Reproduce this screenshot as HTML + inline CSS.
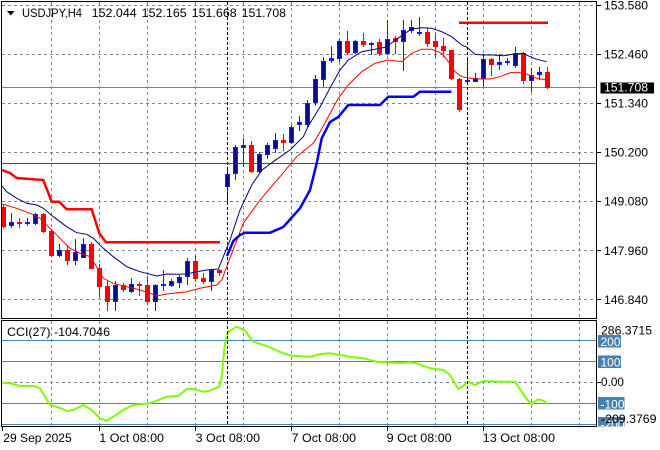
<!DOCTYPE html>
<html><head><meta charset="utf-8"><style>
html,body{margin:0;padding:0;background:#fff;width:660px;height:450px;overflow:hidden}
svg{display:block}
text{font-family:"Liberation Sans",Arial,sans-serif;font-size:12px}
</style></head><body>
<svg width="660" height="450" viewBox="0 0 660 450" xmlns="http://www.w3.org/2000/svg">
<defs>
<clipPath id="cm"><rect x="2" y="2" width="594" height="316"/></clipPath>
<clipPath id="cc"><rect x="2" y="321" width="594" height="105"/></clipPath>
</defs>
<rect width="660" height="450" fill="#fff"/>
<g stroke="#778899" stroke-width="1" stroke-dasharray="3,3" fill="none">
<path d="M2 5.5H596M2 54.5H596M2 103.5H596M2 152.5H596M2 201.5H596M2 250.5H596M2 299.5H596M2 382.5H596"/>
<path d="M51.5 2V318M99.5 2V318M147.5 2V318M195.5 2V318M243.5 2V318M291.5 2V318M339.5 2V318M387.5 2V318M435.5 2V318M483.5 2V318M531.5 2V318M579.5 2V318"/>
<path d="M51.5 321V426M99.5 321V426M147.5 321V426M195.5 321V426M243.5 321V426M291.5 321V426M339.5 321V426M387.5 321V426M435.5 321V426M483.5 321V426M531.5 321V426M579.5 321V426"/>
</g>
<g clip-path="url(#cm)">
<path d="M2 87.5H596" stroke="#808080" stroke-width="1"/>
<path d="M2 163.5H596" stroke="#ff0000" stroke-width="1"/>
<path stroke="#ff0000" stroke-width="1" fill="none" d="M3.5 205V228M19.5 218V228M43.5 213V233M51.5 229V257M67.5 246V265M91.5 242V269M99.5 264V298M107.5 281V311M123.5 283V292M139.5 282V296M147.5 276V305M195.5 256V282M203.5 273V284M219.5 269V276M251.5 141V173M283.5 134V151M347.5 31V55M363.5 33V47M379.5 39V56M395.5 36V54M427.5 28V47M435.5 33V57M443.5 38V57M451.5 50V80M459.5 78V112M491.5 58V76M523.5 52V84M547.5 67V89"/>
<path fill="#ff0000" d="M1 207h5v20h-5zM17 222h5v2h-5zM41 214h5v18h-5zM49 231h5v25h-5zM65 250h5v11h-5zM89 244h5v25h-5zM97 268h5v19h-5zM105 286h5v16h-5zM121 285h5v5h-5zM137 284h5v2h-5zM145 285h5v17h-5zM193 261h5v18h-5zM201 278h5v4h-5zM217 270h5v3h-5zM249 145h5v27h-5zM281 140h5v3h-5zM345 41h5v12h-5zM361 41h5v4h-5zM377 42h5v12h-5zM393 38h5v4h-5zM425 32h5v12h-5zM433 41h5v6h-5zM441 46h5v5h-5zM449 50h5v29h-5zM457 79h5v31h-5zM489 59h5v6h-5zM521 53h5v28h-5zM545 72h5v16h-5z"/>
<path stroke="#1a1aff" stroke-width="1" fill="none" d="M11.5 213V228M27.5 218V226M35.5 213V225M59.5 244V257M75.5 239V265M83.5 238V258M115.5 281V311M131.5 278V293M155.5 284V311M163.5 270V291M171.5 279V287M179.5 275V288M187.5 258V285M211.5 269V291M227.5 167V203M235.5 145V180M243.5 138V167M259.5 152V173M267.5 143V159M275.5 133V153M291.5 125V144M299.5 116V131M307.5 100V128M315.5 75V106M323.5 57V87M331.5 46V63M339.5 39V62M355.5 40V54M371.5 42V55M387.5 20V55M403.5 20V71M411.5 20V33M419.5 17V36M467.5 58V82M475.5 73V82M483.5 54V87M499.5 54V70M507.5 58V65M515.5 47V68M531.5 68V92M539.5 67V80"/>
<path stroke="#1a1aff" stroke-width="1" fill="#0a0a96" d="M9.5 222.5h4v3h-4zM25.5 222.5h4v1h-4zM33.5 214.5h4v9h-4zM57.5 250.5h4v5h-4zM73.5 252.5h4v8h-4zM81.5 244.5h4v13h-4zM113.5 285.5h4v16h-4zM129.5 284.5h4v7h-4zM153.5 285.5h4v16h-4zM161.5 284.5h4v1h-4zM169.5 281.5h4v4h-4zM177.5 277.5h4v5h-4zM185.5 261.5h4v15h-4zM209.5 270.5h4v11h-4zM225.5 174.5h4v12h-4zM233.5 147.5h4v26h-4zM241.5 145.5h4v2h-4zM257.5 154.5h4v17h-4zM265.5 145.5h4v9h-4zM273.5 140.5h4v8h-4zM289.5 127.5h4v15h-4zM297.5 122.5h4v2h-4zM305.5 103.5h4v21h-4zM313.5 79.5h4v23h-4zM321.5 61.5h4v18h-4zM329.5 58.5h4v2h-4zM337.5 41.5h4v17h-4zM353.5 41.5h4v11h-4zM369.5 43.5h4v1h-4zM385.5 39.5h4v14h-4zM401.5 30.5h4v11h-4zM409.5 27.5h4v3h-4zM417.5 32.5h4v1h-4zM465.5 80.5h4v1h-4zM473.5 78.5h4v3h-4zM481.5 59.5h4v19h-4zM497.5 62.5h4v2h-4zM505.5 61.5h4v1h-4zM513.5 53.5h4v12h-4zM529.5 75.5h4v5h-4zM537.5 72.5h4v2h-4z"/>
<polyline fill="none" stroke="#000080" stroke-width="1" points="2,186 6.7,191.7 16.7,198.3 26.7,203.3 36.7,205 43.3,208.3 53.3,216.7 66.7,226.7 76.7,232.7 86.7,234.3 93.3,238.3 103.3,248.3 113.3,256.7 126.7,266.7 140,271.7 146.7,273.3 156.7,276 166.7,274 176.7,274.3 186.7,274 196.7,271.7 206.7,270 218.3,269 223.3,256.7 230,240 240,210 251.7,185 262,170 273.3,161.7 290,150 303.3,136.7 308.3,126 320,107 330,88 340,70 348.3,60 361.7,51.7 375,49.3 385,47.3 395,40.7 405,33.3 411.7,29 421.7,27.7 431.7,28.3 441.7,31.7 451.7,36.7 461.7,45 466.7,47 475,54.3 483.3,55 493.3,55 503.3,55.7 513.3,54.3 523.3,53.3 530,56.7 536.7,59.3 546.7,61.7"/>
<polyline fill="none" stroke="#ff0000" stroke-width="1" points="2,204 16.7,208.3 30,213.3 40,218.3 50,228.3 60,238.3 70,248.3 80,253.3 90,256.7 96.7,266.7 103.3,278.3 113.3,283.3 126.7,286.7 140,290 150,293.3 156.7,296 166.7,294 186.7,291.7 200,288.3 216.7,285 221.7,280 230,258 243.3,223.3 260,200 280,176.7 296.7,156.7 313.3,143.3 320,132 328.3,116.7 338.3,98.3 348.3,85 361.7,71.7 375,63.3 388.3,60 401.7,61.7 411.7,53.3 421.7,49.3 431.7,49.3 441.7,53.3 448.3,61.7 455,71.7 461.7,76.7 475,79 490,79 500,76.7 510,72.7 516.7,72.3 526.7,74 536.7,78.3 546.7,80"/>
<polyline fill="none" stroke="#ff0000" stroke-width="2.5" points="2,170 10,173 16.7,178 43.3,180 51.7,201.7 59.3,201.7 66.7,209.3 91.7,209.3 99.3,233.3 106,242.3 220,242.3"/>
<path d="M459 22.7H548" stroke="#ff0000" stroke-width="2.5"/>
<polyline fill="none" stroke="#0000ff" stroke-width="2.5" points="227,256 233.3,241 240,235 245,232.7 270,232.7 283.3,227 300,208.3 310,190 316.7,163.3 321.7,138.3 330,122 338.3,117 348.3,105 380,105 388.3,96.7 413.3,96.7 420,91.7 451.5,91.7"/>
</g>
<g clip-path="url(#cc)">
<path stroke="#4682b4" stroke-width="1" d="M2 340.5H596M2 361.5H596M2 403.5H596M2 424.5H596"/>
<polyline fill="none" stroke="#7cfc00" stroke-width="2" points="2,382.7 10,383.3 20,386 33.3,386 40,388.3 50,405 58.3,407.3 66.7,411 73.3,410 83.3,405 91.7,410 100,418.3 106.7,420.7 113.3,416.7 123.3,410 133.3,405 150,403.3 156.7,400.7 166.7,396.7 178.3,396 186.7,389 193.3,389 203.3,391.7 210,390.7 219.3,386.7 221.7,376.7 225,343.3 228.3,331.7 236.7,326.7 245,330.7 253.3,341.7 266.7,346 283.3,353.3 291.7,355.7 310,356.7 320,354.3 330,353.3 340,355 353.3,357.3 363.3,358.3 376.7,361.7 393.3,362.7 400,363.3 410,362.3 416.7,363.3 430,368.3 443.3,370 450,375 458.3,389 463.3,386 468.3,381.7 475,385 483.3,381 503.3,381.7 515,381.7 521.7,391.7 526.7,399.3 531.7,404 538.3,399.3 543.3,400.7 547.3,404"/>
</g>
<path stroke="#000" stroke-width="1" stroke-dasharray="3,2" d="M227.5 2V318M467.5 2V318M227.5 321V426M467.5 321V426"/>
<g stroke="#000" stroke-width="1" fill="none">
<rect x="1.5" y="1.5" width="595" height="317"/>
<rect x="1.5" y="320.5" width="595" height="106"/>
<path d="M597 5.5H601M597 54.5H601M597 103.5H601M597 152.5H601M597 201.5H601M597 250.5H601M597 299.5H601M597 382.5H601M2.5 427V431M99.5 427V431M195.5 427V431M291.5 427V431M387.5 427V431M483.5 427V431"/>
</g>
<polygon points="7,11 14.5,11 10.75,15.5" fill="#000"/>
<text x="22" y="17" textLength="60" lengthAdjust="spacingAndGlyphs">USDJPY,H4</text>
<text x="91.7" y="17" textLength="45" lengthAdjust="spacingAndGlyphs">152.044</text>
<text x="141.7" y="17" textLength="45" lengthAdjust="spacingAndGlyphs">152.165</text>
<text x="191.7" y="17" textLength="45" lengthAdjust="spacingAndGlyphs">151.668</text>
<text x="241.7" y="17" textLength="44.3" lengthAdjust="spacingAndGlyphs">151.708</text>
<text x="604" y="9.5" textLength="44" lengthAdjust="spacingAndGlyphs">153.580</text>
<text x="604" y="58.5" textLength="44" lengthAdjust="spacingAndGlyphs">152.460</text>
<text x="604" y="107.5" textLength="44" lengthAdjust="spacingAndGlyphs">151.340</text>
<text x="604" y="156.7" textLength="44" lengthAdjust="spacingAndGlyphs">150.200</text>
<text x="604" y="205.7" textLength="44" lengthAdjust="spacingAndGlyphs">149.080</text>
<text x="604" y="255" textLength="44" lengthAdjust="spacingAndGlyphs">147.960</text>
<text x="604" y="304" textLength="44" lengthAdjust="spacingAndGlyphs">146.840</text>
<rect x="600.5" y="82.5" width="53.5" height="11" fill="#000"/>
<text x="604" y="91.7" fill="#fff" textLength="44" lengthAdjust="spacingAndGlyphs">151.708</text>
<text x="7" y="336" textLength="103" lengthAdjust="spacingAndGlyphs">CCI(27) -104.7046</text>
<rect x="598" y="335" width="23" height="12.5" fill="#4682b4"/>
<text x="600.5" y="346" fill="#fff" textLength="20" lengthAdjust="spacingAndGlyphs">200</text>
<rect x="598" y="355.5" width="23" height="12.5" fill="#4682b4"/>
<text x="600.5" y="366.5" fill="#fff" textLength="20" lengthAdjust="spacingAndGlyphs">100</text>
<text x="601" y="386" textLength="23" lengthAdjust="spacingAndGlyphs">0.00</text>
<rect x="598" y="397" width="26.5" height="12.5" fill="#4682b4"/>
<text x="600.5" y="408.5" fill="#fff" textLength="24" lengthAdjust="spacingAndGlyphs">-100</text>
<svg x="598" y="417" width="27" height="9.5" overflow="hidden">
<rect x="0" y="0" width="26.5" height="12.5" fill="#4682b4"/>
<text x="2.5" y="11.5" fill="#fff" textLength="24" lengthAdjust="spacingAndGlyphs">-200</text>
</svg>
<text x="601" y="334.5" textLength="51" lengthAdjust="spacingAndGlyphs">286.3715</text>
<text x="601" y="423" textLength="55.5" lengthAdjust="spacingAndGlyphs">-209.3769</text>
<text x="3.3" y="442" textLength="68.4" lengthAdjust="spacingAndGlyphs">29 Sep 2025</text>
<text x="99.3" y="442" textLength="64.7" lengthAdjust="spacingAndGlyphs">1 Oct 08:00</text>
<text x="195.7" y="442" textLength="64.3" lengthAdjust="spacingAndGlyphs">3 Oct 08:00</text>
<text x="291.7" y="442" textLength="64.3" lengthAdjust="spacingAndGlyphs">7 Oct 08:00</text>
<text x="386.7" y="442" textLength="65" lengthAdjust="spacingAndGlyphs">9 Oct 08:00</text>
<text x="482.7" y="442" textLength="72.3" lengthAdjust="spacingAndGlyphs">13 Oct 08:00</text>
</svg>
</body></html>
